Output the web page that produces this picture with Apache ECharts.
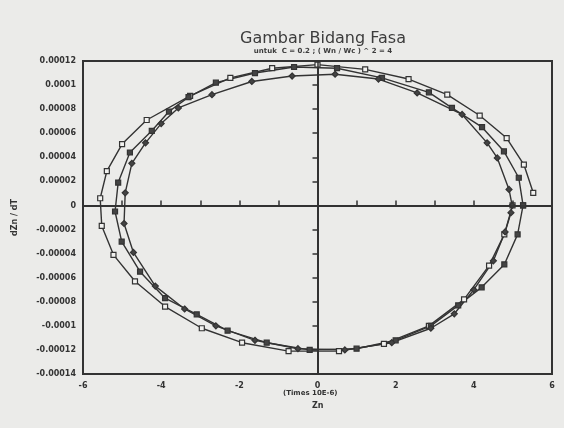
<!DOCTYPE html>
<html>
<head>
<meta charset="utf-8">
<script src="https://cdn.jsdelivr.net/npm/echarts@6/dist/echarts.min.js"></script>
<style>
  html, body { margin: 0; padding: 0; background: #ebebe9; }
  #chart { width: 564px; height: 428px; }
</style>
</head>
<body>
<div id="chart"></div>
<script>
// Zn values (Times 10E-6) and dZn/dT values (x 1e-5)
const outerZn = [5.52, 5.28, 4.84, 4.15, 3.32, 2.33, 1.22, 0.0, -1.16, -2.23, -3.26, -4.37, -5.0, -5.39, -5.56, -5.52, -5.22, -4.67, -3.9, -2.96, -1.93, -0.74, 0.55, 1.7, 2.85, 3.75, 4.39, 4.78, 4.99];
const outerDz = [1.05, 3.4, 5.6, 7.47, 9.2, 10.5, 11.3, 11.7, 11.4, 10.6, 9.1, 7.1, 5.1, 2.85, 0.6, -1.7, -4.1, -6.3, -8.4, -10.2, -11.4, -12.1, -12.1, -11.5, -10.0, -7.8, -5.0, -2.4, 0];

const midZn = [5.26, 5.15, 4.77, 4.21, 3.44, 2.85, 1.65, 0.5, -0.6, -1.6, -2.6, -3.3, -3.8, -4.24, -4.8, -5.1, -5.18, -5.01, -4.54, -3.9, -3.09, -2.3, -1.3, -0.2, 1.0, 2.0, 2.9, 3.6, 4.2, 4.78, 5.12, 5.26];
const midDz = [0, 2.3, 4.5, 6.5, 8.1, 9.4, 10.6, 11.4, 11.5, 11.0, 10.2, 9.0, 7.8, 6.2, 4.4, 1.9, -0.5, -3.0, -5.5, -7.7, -9.05, -10.4, -11.4, -12.0, -11.9, -11.2, -10.0, -8.3, -6.8, -4.9, -2.4, 0];

const innerZn = [4.98, 4.9, 4.6, 4.34, 3.7, 2.55, 1.56, 0.45, -0.65, -1.68, -2.7, -3.56, -4.0, -4.4, -4.75, -4.92, -4.95, -4.71, -4.15, -3.4, -2.6, -1.6, -0.5, 0.7, 1.9, 2.9, 3.5, 4.0, 4.5, 4.8, 4.95];
const innerDz = [0, 1.33, 3.95, 5.2, 7.56, 9.35, 10.5, 10.9, 10.75, 10.3, 9.2, 8.1, 6.8, 5.2, 3.5, 1.05, -1.5, -3.9, -6.7, -8.6, -10.0, -11.2, -11.9, -12.0, -11.4, -10.2, -9.0, -7.0, -4.6, -2.2, -0.6];

const xTicks = [-6, -4, -2, 0, 2, 4, 6];
const yMin = -0.00014, yMax = 0.00012, yStep = 0.00002;

const pairs = (xs, ys) => xs.map((x, i) => [x, ys[i] * 1e-5]);
const ink = '#333';

const chart = echarts.init(document.getElementById('chart'));

function curve(name, xs, ys, symbol, fill) {
  return {
    name, type: 'line', data: pairs(xs, ys),
    symbol, symbolSize: symbol === 'diamond' ? 6 : 5,
    lineStyle: { color: ink, width: 1.4 },
    itemStyle: { color: fill, borderColor: ink, borderWidth: 1.2 },
    emphasis: { disabled: true },
    z: 3
  };
}

chart.setOption({
  backgroundColor: '#ebebe9',
  animation: false,
  title: {
    text: 'Gambar Bidang Fasa',
    subtext: 'untuk  C = 0.2 ; ( Wn / Wc ) ^ 2 = 4',
    left: 318, top: 26, textAlign: 'center',
    itemGap: 1,
    textStyle: { fontFamily: 'DejaVu Sans', fontSize: 16, fontWeight: 'normal', color: '#3c3c3c' },
    subtextStyle: { fontFamily: 'DejaVu Sans', fontSize: 7, fontWeight: 'bold', color: '#3c3c3c' }
  },
  grid: { left: 83, right: 12, top: 61, bottom: 54, show: true, borderColor: ink, borderWidth: 2, backgroundColor: 'transparent' },
  xAxis: {
    type: 'value', min: -6, max: 6, interval: 1,
    axisLine: { show: true, lineStyle: { color: ink, width: 2 } },
    axisTick: { show: true, inside: true, length: 5, lineStyle: { color: ink, width: 1.5 } },
    splitLine: { show: false },
    axisLabel: {
      margin: 8, color: '#333', fontFamily: 'DejaVu Sans', fontSize: 8, fontWeight: 'bold',
      formatter: v => xTicks.includes(v) ? String(v) : ''
    }
  },
  yAxis: {
    type: 'value', min: yMin, max: yMax, interval: yStep,
    name: 'dZn / dT', nameLocation: 'middle', nameRotate: 90, nameGap: 64,
    nameTextStyle: { color: '#333', fontFamily: 'DejaVu Sans', fontSize: 8, fontWeight: 'bold' },
    axisLine: { show: true, lineStyle: { color: ink, width: 2 } },
    axisTick: { show: true, length: 5, lineStyle: { color: ink, width: 1.5 } },
    splitLine: { show: false },
    axisLabel: {
      margin: 7, color: '#333', fontFamily: 'DejaVu Sans', fontSize: 8, fontWeight: 'bold',
      formatter: v => Math.abs(v) < 1e-12 ? '0' : parseFloat(v.toFixed(5)).toFixed(5).replace(/0+$/, '')
    }
  },
  graphic: [
    { type: 'text', left: 283, top: 390, style: { text: '(Times 10E-6)', fontFamily: 'DejaVu Sans', fontSize: 7, fontWeight: 'bold', fill: '#333' } },
    { type: 'text', left: 312, top: 402, style: { text: 'Zn', fontFamily: 'DejaVu Sans', fontSize: 8, fontWeight: 'bold', fill: '#333' } }
  ],
  series: [
    {
      type: 'line', data: [], silent: true,
      markLine: {
        silent: true, symbol: 'none', label: { show: false },
        lineStyle: { color: ink, width: 1.5, type: 'solid' },
        data: [{ xAxis: 0 }, { yAxis: 0 }]
      }
    },
    curve('outer', outerZn, outerDz, 'rect', '#f2f2f0'),
    curve('middle', midZn, midDz, 'rect', '#444'),
    curve('inner', innerZn, innerDz, 'diamond', '#444')
  ]
});
</script>
</body>
</html>
